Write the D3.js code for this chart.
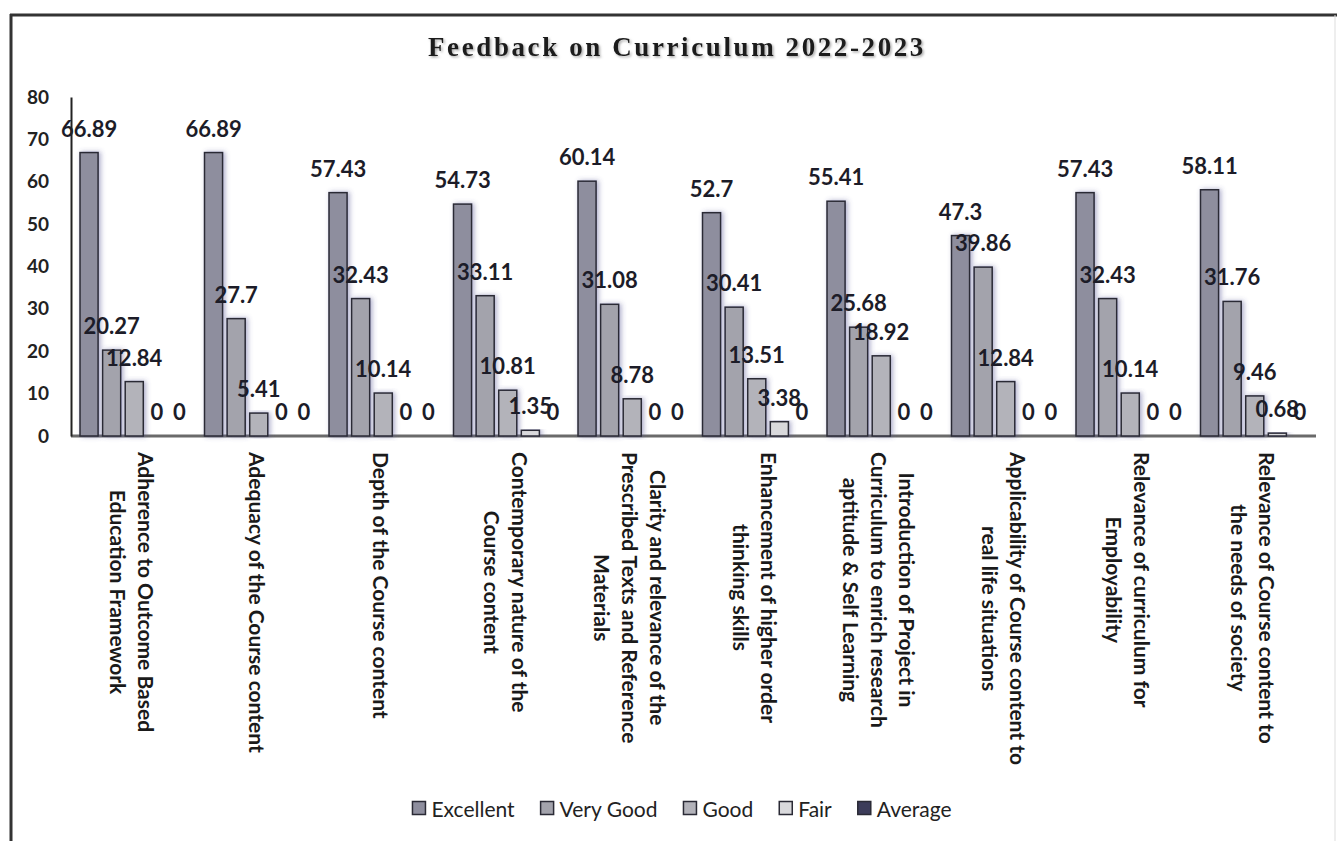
<!DOCTYPE html>
<html>
<head>
<meta charset="utf-8">
<script src="https://cdn.jsdelivr.net/npm/d3@7"></script>
<style>
  html, body { margin: 0; padding: 0; background: #fff; }
  svg { display: block; }
</style>
</head>
<body>
<svg id="chart" width="1337" height="841"></svg>
<script>
// ---------- data ----------
const categories = [
  "Adherence to Outcome Based Education Framework",
  "Adequacy of the Course content",
  "Depth of the Course content",
  "Contemporary nature of the Course content",
  "Clarity and relevance of the Prescribed Texts and Reference Materials",
  "Enhancement of higher order thinking skills",
  "Introduction of Project in Curriculum to enrich research aptitude & Self Learning",
  "Applicability of Course content to real life situations",
  "Relevance of curriculum for Employability",
  "Relevance of Course content to the needs of society"
];
const categoryLines = [
  ["Adherence to Outcome Based", "Education Framework"],
  ["Adequacy of the Course content"],
  ["Depth of the Course content"],
  ["Contemporary nature of the", "Course content"],
  ["Clarity and relevance of the", "Prescribed Texts and Reference", "Materials"],
  ["Enhancement of higher order", "thinking skills"],
  ["Introduction of Project in", "Curriculum to enrich research", "aptitude & Self Learning"],
  ["Applicability of Course content to", "real life situations"],
  ["Relevance of curriculum for", "Employability"],
  ["Relevance of Course content to", "the needs of society"]
];
const seriesNames = ["Excellent", "Very Good", "Good", "Fair", "Average"];
const excellent = [66.89, 66.89, 57.43, 54.73, 60.14, 52.7, 55.41, 47.3, 57.43, 58.11];
const veryGood  = [20.27, 27.7, 32.43, 33.11, 31.08, 30.41, 25.68, 39.86, 32.43, 31.76];
const good      = [12.84, 5.41, 10.14, 10.81, 8.78, 13.51, 18.92, 12.84, 10.14, 9.46];
const fair      = [0, 0, 0, 1.35, 0, 3.38, 0, 0, 0, 0.68];
const average   = [0, 0, 0, 0, 0, 0, 0, 0, 0, 0];
const yTicks = [0, 10, 20, 30, 40, 50, 60, 70, 80];
const titleText = "Feedback on Curriculum 2022-2023";

const seriesValues = [excellent, veryGood, good, fair, average];
const seriesColors = ["#8e8e9e", "#a3a3ac", "#b3b3ba", "#d9d9dc", "#3c3c5a"];

// ---------- layout ----------
const svg = d3.select("#chart");
const FONT = "Lato, 'Open Sans', sans-serif";

const defs = svg.append("defs");
const sh = defs.append("filter").attr("id", "barShadow")
  .attr("x", "-50%").attr("y", "-10%").attr("width", "200%").attr("height", "120%");
sh.append("feDropShadow").attr("dx", 2).attr("dy", 0).attr("stdDeviation", 2.5)
  .attr("flood-color", "#50508f").attr("flood-opacity", 0.45);
const tsh = defs.append("filter").attr("id", "textShadow")
  .attr("x", "-10%").attr("y", "-30%").attr("width", "120%").attr("height", "160%");
tsh.append("feDropShadow").attr("dx", 1.5).attr("dy", 1.5).attr("stdDeviation", 1)
  .attr("flood-color", "#777").attr("flood-opacity", 0.6);

// outer frame
svg.append("line").attr("x1", 11).attr("x2", 11).attr("y1", 14).attr("y2", 841)
  .attr("stroke", "#333").attr("stroke-width", 3);
svg.append("line").attr("x1", 10).attr("x2", 1337).attr("y1", 15).attr("y2", 15)
  .attr("stroke", "#333").attr("stroke-width", 3);
svg.append("line").attr("x1", 1335).attr("x2", 1335).attr("y1", 15).attr("y2", 841)
  .attr("stroke", "#ddd").attr("stroke-width", 1);

// title
svg.append("text")
  .attr("x", 677).attr("y", 56)
  .attr("text-anchor", "middle")
  .attr("font-family", "'Liberation Serif', 'Times New Roman', serif")
  .attr("font-weight", "bold")
  .attr("font-size", 27)
  .attr("letter-spacing", 2.6)
  .attr("fill", "#1a1a1a")
  .attr("filter", "url(#textShadow)")
  .text(titleText);

const x0 = d3.scaleBand().domain(categories).range([71, 1316]).padding(0);
const x1 = d3.scaleBand().domain(seriesNames).range([9, 117.5]).paddingInner(0.2).paddingOuter(0);
const y = d3.scaleLinear().domain([0, 80]).range([436, 97]);

// baseline
svg.append("line")
  .attr("x1", x0.range()[0]).attr("x2", x0.range()[1])
  .attr("y1", y(0)).attr("y2", y(0))
  .attr("stroke", "#6a6a6a").attr("stroke-width", 3);

// bars
const groups = svg.append("g").selectAll("g")
  .data(categories).join("g")
  .attr("transform", d => `translate(${x0(d)},0)`);

groups.each(function(cat, ci) {
  const g = d3.select(this);
  const vals = seriesNames.map((s, si) => ({ s, si, v: seriesValues[si][ci] }));
  g.selectAll("rect").data(vals.filter(d => d.v > 0)).join("rect")
    .attr("x", d => x1(d.s))
    .attr("y", d => y(d.v))
    .attr("width", x1.bandwidth())
    .attr("height", d => y(0) - y(d.v))
    .attr("fill", d => seriesColors[d.si])
    .attr("stroke", "#2a2a35")
    .attr("stroke-width", 1.5)
    .attr("filter", "url(#barShadow)");
});

// y axis
const yAxis = svg.append("g")
  .attr("transform", "translate(71,0)")
  .call(d3.axisLeft(y).tickValues(yTicks).tickSize(0).tickPadding(22).tickSizeOuter(0));
yAxis.select(".domain").attr("stroke", "#222").attr("stroke-width", 2);
yAxis.selectAll("text")
  .attr("font-family", FONT).attr("font-weight", "bold")
  .attr("font-size", 19).attr("fill", "#222");

// data labels
groups.each(function(cat, ci) {
  const g = d3.select(this);
  const vals = seriesNames.map((s, si) => ({ s, si, v: seriesValues[si][ci] }));
  g.selectAll("text.lbl").data(vals).join("text")
    .attr("class", "lbl")
    .attr("x", d => x1(d.s) + x1.bandwidth() / 2)
    .attr("y", d => y(d.v) - 16)
    .attr("text-anchor", "middle")
    .attr("font-family", FONT).attr("font-weight", "bold")
    .attr("font-size", 22).attr("fill", "#1c1c28")
    .text(d => d3.format("~")(d.v));
});

// category labels (rotated 90deg)
const catG = svg.append("g");
categories.forEach((cat, ci) => {
  const lines = categoryLines[ci];
  const cx = x0(cat) + x0.bandwidth() / 2;
  const t = catG.append("text")
    .attr("font-family", FONT).attr("font-weight", "bold")
    .attr("font-size", 21).attr("fill", "#1a1a1a")
    .attr("text-anchor", "middle")
    .attr("dominant-baseline", "central");
  lines.forEach((ln, li) => {
    t.append("tspan").attr("x", 0)
      .attr("y", (li - (lines.length - 1) / 2) * 28)
      .text(ln);
  });
  let maxLen = 0;
  t.selectAll("tspan").each(function() { maxLen = Math.max(maxLen, this.getComputedTextLength()); });
  t.attr("transform", `translate(${cx},${452 + maxLen / 2}) rotate(90)`);
});

// legend
const legend = svg.append("g");
let lx = 0;
seriesNames.forEach((s, si) => {
  const it = legend.append("g");
  it.append("rect").attr("x", 0).attr("y", -6.5).attr("width", 13).attr("height", 13)
    .attr("fill", seriesColors[si]).attr("stroke", "#2a2a35").attr("stroke-width", 1.5);
  const tx = it.append("text").attr("x", 19).attr("y", 0)
    .attr("dominant-baseline", "central")
    .attr("font-family", FONT).attr("font-size", 21).attr("fill", "#222")
    .text(s);
  const w = 19 + tx.node().getComputedTextLength();
  it.attr("transform", `translate(${lx},0)`);
  lx += w + 26;
});
const legendWidth = lx - 26;
legend.attr("transform", `translate(${682 - legendWidth / 2},808)`);
</script>
</body>
</html>
